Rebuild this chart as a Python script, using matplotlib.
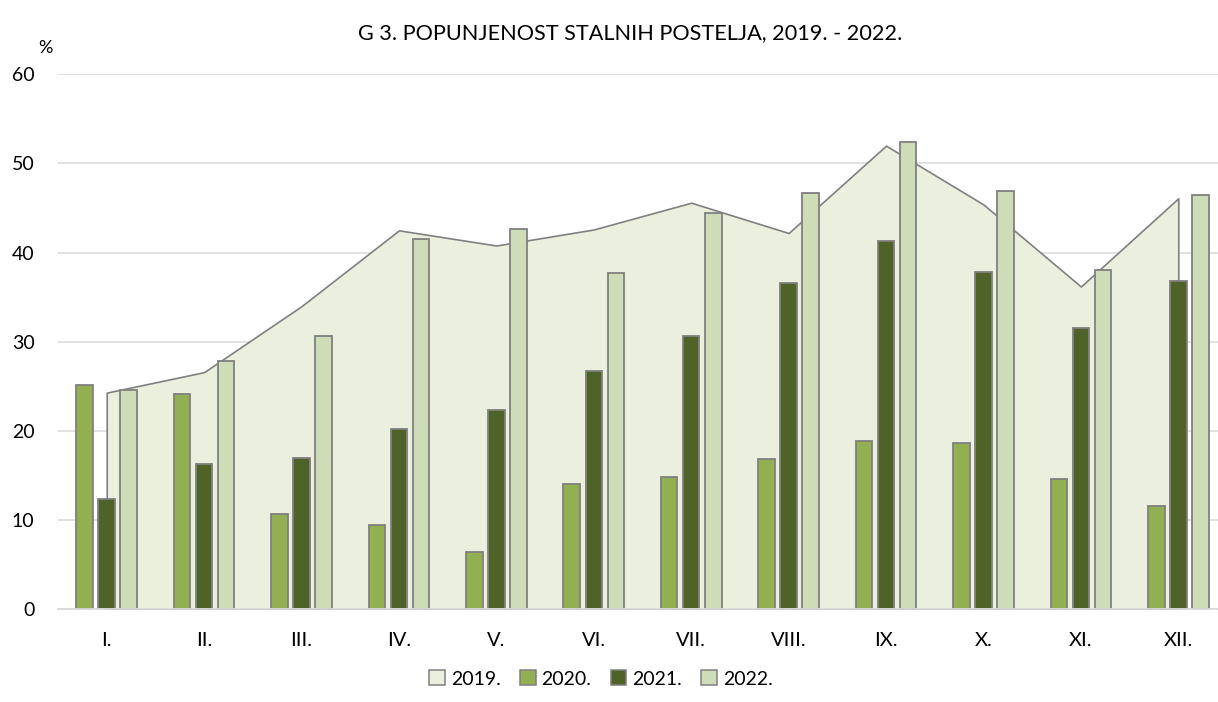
import matplotlib
matplotlib.use("Agg")
import matplotlib.pyplot as plt
import numpy as np
from matplotlib.patches import Patch

plt.rcParams['font.family'] = ['Lato', 'DejaVu Sans']

months = ["I.", "II.", "III.", "IV.", "V.", "VI.", "VII.", "VIII.", "IX.", "X.", "XI.", "XII."]
y2019 = [24.3, 26.6, 34.0, 42.5, 40.8, 42.6, 45.6, 42.2, 52.0, 45.4, 36.2, 46.1]
y2020 = [25.2, 24.1, 10.7, 9.5, 6.4, 14.0, 14.8, 16.9, 18.9, 18.6, 14.6, 11.6]
y2021 = [12.4, 16.3, 17.0, 20.2, 22.3, 26.7, 30.7, 36.6, 41.3, 37.8, 31.6, 36.8]
y2022 = [24.6, 27.8, 30.7, 41.5, 42.7, 37.7, 44.4, 46.7, 52.4, 46.9, 38.0, 46.5]
series_names = ["2019.", "2020.", "2021.", "2022."]

c2019 = "#EBF0DE"
c2020 = "#92AF52"
c2021 = "#4F6228"
c2022 = "#CFDCB8"
edge = "#808080"

fig = plt.figure(figsize=(12.18, 7.02), dpi=100)
ax = fig.add_axes([58 / 1218, (702 - 609.3) / 702, (1227 - 58) / 1218, 535 / 702])

x = np.arange(len(months))

# 2019 as area behind the bars
ax.fill_between(x, 0, y2019, facecolor=c2019, edgecolor=edge, linewidth=1.2, zorder=1)

# bars for the other years
w = 0.17
off = 0.226
ax.bar(x - off, y2020, w, color=c2020, edgecolor=edge, linewidth=1.3, zorder=2)
ax.bar(x, y2021, w, color=c2021, edgecolor=edge, linewidth=1.3, zorder=2)
ax.bar(x + off, y2022, w, color=c2022, edgecolor=edge, linewidth=1.3, zorder=2)

ax.set_xlim(-0.5, 11.5)
ax.set_ylim(0, 60)
ax.set_yticks(range(0, 61, 10))
ax.set_xticks(x)
ax.set_xticklabels(months)
ax.grid(axis='y', color="#D9D9D9", linewidth=1.1, zorder=0)
ax.set_axisbelow(True)
ax.tick_params(axis='both', length=0, labelsize=14, colors="#000000")
ax.tick_params(axis='x', pad=16, labelsize=14.5)
ax.tick_params(axis='y', pad=17)
for s in ["top", "right", "left"]:
    ax.spines[s].set_visible(False)
ax.spines["bottom"].set_color("#D9D9D9")
ax.spines["bottom"].set_linewidth(1.3)

fig.text(45 / 1218, 1 - 48 / 702, "%", ha="center", va="center", fontsize=13)
fig.text(630 / 1218, 1 - 33 / 702, "G 3. POPUNJENOST STALNIH POSTELJA, 2019. - 2022.",
         ha="center", va="center", fontsize=15.6)

handles = [Patch(facecolor=c, edgecolor=edge, linewidth=1.1) for c in [c2019, c2020, c2021, c2022]]
fig.legend(handles, series_names, loc="center", bbox_to_anchor=(601 / 1218, 1 - 679 / 702),
           ncol=4, frameon=False, fontsize=14, handlelength=0.8, handleheight=0.8,
           handletextpad=0.3, columnspacing=1.0)

fig.savefig("out.png", dpi=100)
